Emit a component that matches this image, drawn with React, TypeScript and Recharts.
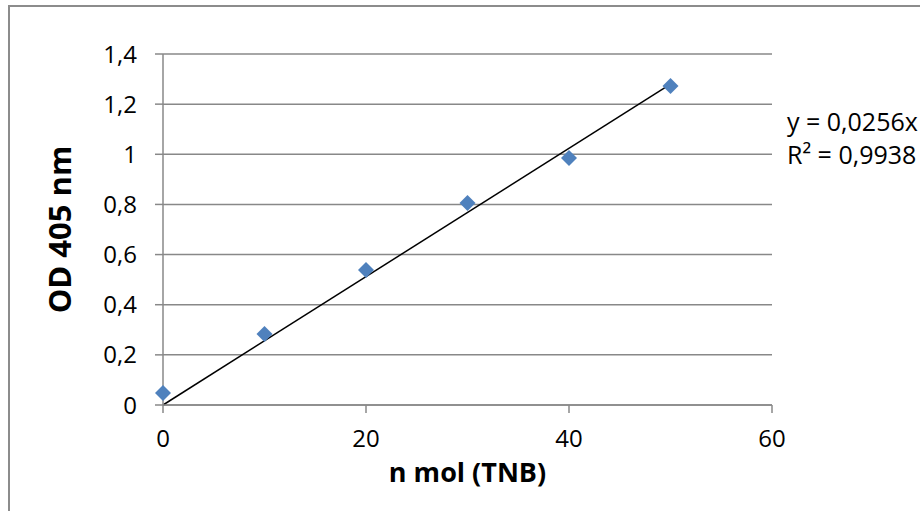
import { ComposedChart, Scatter, XAxis, YAxis, CartesianGrid, ReferenceLine, Label } from "recharts";

// standard curve: TNB amount vs absorbance
const nmol = [0, 10, 20, 30, 40, 50];
const od405 = [0.048, 0.283, 0.538, 0.806, 0.985, 1.272];
const xTicks = [0, 20, 40, 60];
const yTicks = [0, 0.2, 0.4, 0.6, 0.8, 1, 1.2, 1.4];
const slope = 0.0256;
const r2 = "0,9938";

const points = nmol.map((x, i) => ({ x, y: od405[i] }));

const FONT = "'Open Sans', sans-serif";
const GRID = "#888888";

function Diamond(props: any) {
  const { cx, cy } = props;
  const r = 8;
  return (
    <polygon
      points={`${cx},${cy - r} ${cx + r},${cy} ${cx},${cy + r} ${cx - r},${cy}`}
      fill="#4F81BD"
    />
  );
}

const fmt = (v: number) => String(v).replace(".", ",");

export default function App() {
  return (
    <div style={{ position: "fixed", left: 0, top: 0, width: 920, height: 511, overflow: "hidden", background: "#fff" }}>
      <div style={{ position: "absolute", left: 0, top: 0 }}>
        <ComposedChart width={920} height={511} data={points} margin={{ top: 54, right: 148, bottom: 0, left: 0 }}>
          <CartesianGrid horizontal vertical={false} stroke={GRID} strokeWidth={1.5} />
          <XAxis
            dataKey="x"
            type="number"
            domain={[0, 60]}
            ticks={xTicks}
            height={106}
            stroke={GRID}
            strokeWidth={1.5}
            tickSize={8}
            tickMargin={17}
            tick={{ fill: "#000", fontSize: 24, fontFamily: FONT }}
          >
            <Label value="n mol (TNB)" position="insideTop" offset={58} fill="#000" fontSize={27} fontWeight="bold" fontFamily={FONT} />
          </XAxis>
          <YAxis
            dataKey="y"
            type="number"
            domain={[0, 1.4]}
            ticks={yTicks}
            width={163}
            stroke={GRID}
            strokeWidth={1.5}
            tickSize={8}
            tickMargin={18}
            tickFormatter={fmt}
            tick={{ fill: "#000", fontSize: 24, fontFamily: FONT }}
          >
            <Label value="OD 405 nm" angle={-90} position="insideLeft" offset={60} fill="#000" fontSize={31} fontWeight="bold" fontFamily={FONT} style={{ textAnchor: "middle" }} />
          </YAxis>
          <ReferenceLine
            segment={[{ x: 0, y: 0 }, { x: 50, y: slope * 50 }]}
            stroke="#000"
            strokeWidth={1.5}
            ifOverflow="visible"
          />
          <Scatter dataKey="y" shape={<Diamond />} isAnimationActive={false} />
        </ComposedChart>
      </div>
      <div style={{ position: "absolute", left: 787, top: 105, fontFamily: FONT, fontSize: 25, lineHeight: "33px", color: "#000", whiteSpace: "nowrap" }}>
        <div>y = {fmt(slope)}x</div>
        <div>R² = {r2}</div>
      </div>
      <div style={{ position: "absolute", left: 8, top: 5, width: 1000, height: 600, border: "2px solid #8c8c8c", pointerEvents: "none" }} />
    </div>
  );
}
